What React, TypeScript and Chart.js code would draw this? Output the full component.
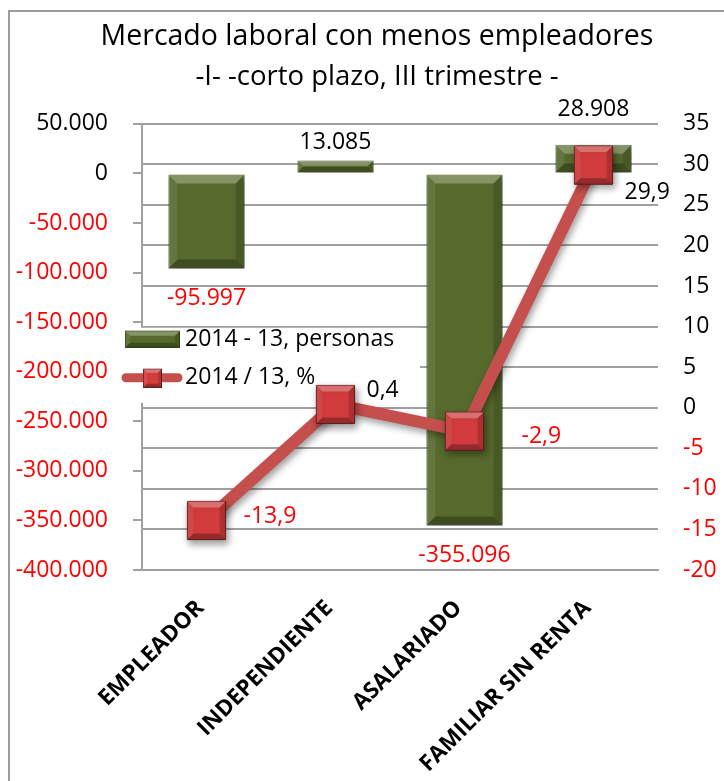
import React, { useEffect, useRef } from 'react';
import { Chart, registerables } from 'chart.js';

Chart.register(...registerables);

// ---- data ----
const categories = ['EMPLEADOR', 'INDEPENDIENTE', 'ASALARIADO', 'FAMILIAR SIN RENTA'];
const personas = [-95997, 13085, -355096, 28908];
const porcentaje = [-13.9, 0.4, -2.9, 29.9];
const legendLabels = ['2014 - 13, personas', '2014 / 13, %'];
const titleText = 'Mercado laboral con menos empleadores';
const subtitleText = '-I- -corto plazo, III trimestre -';
const leftMin = -400000;
const leftMax = 50000;
const leftStep = 50000;
const rightMin = -20;
const rightMax = 35;
const rightStep = 5;

// ---- styling / layout constants ----
const FONT = "'Open Sans', 'DejaVu Sans', sans-serif";
const RED_TEXT = '#ff0000';
const GRID = '#a0a0a0';
const BAR_FILL = '#576a2d';
const BAR_EDGE = '#36451a';
const LINE_COLOR = '#c44f4d';
const MARKER_FILL = '#d23c3c';
const MARKER_EDGE = '#6e1b1b';
const CANVAS_W = 734; // chart object is wider than the visible window (cropped on the right)
const CANVAS_H = 769;
// label offsets (px) relative to the mark
const barLabelDy = [30, -18, 30, -35];
const lineLabelOffsets = [
  [37, -4],
  [31, -14],
  [57, 5],
  [31, 27],
];

function fmtThousands(n: number): string {
  const s = Math.round(Math.abs(n)).toString().replace(/\B(?=(\d{3})+(?!\d))/g, '.');
  return (n < 0 ? '-' : '') + s;
}
function fmtDecimal(n: number): string {
  return n.toFixed(1).replace('.', ',');
}

function bevel(ctx: CanvasRenderingContext2D, l: number, t: number, r: number, b: number, bw: number, strength: number) {
  const h = b - t;
  const w = r - l;
  const e = Math.min(bw, h / 2.2, w / 2.2);
  if (e <= 0) return;
  ctx.save();
  ctx.beginPath();
  ctx.moveTo(l, t); ctx.lineTo(r, t); ctx.lineTo(r - e, t + e); ctx.lineTo(l + e, t + e); ctx.closePath();
  ctx.fillStyle = `rgba(255,255,255,${0.28 * strength})`;
  ctx.fill();
  ctx.beginPath();
  ctx.moveTo(l, t); ctx.lineTo(l + e, t + e); ctx.lineTo(l + e, b - e); ctx.lineTo(l, b); ctx.closePath();
  ctx.fillStyle = `rgba(255,255,255,${0.08 * strength})`;
  ctx.fill();
  ctx.beginPath();
  ctx.moveTo(r, t); ctx.lineTo(r - e, t + e); ctx.lineTo(r - e, b - e); ctx.lineTo(r, b); ctx.closePath();
  ctx.fillStyle = `rgba(0,0,0,${0.16 * strength})`;
  ctx.fill();
  ctx.beginPath();
  ctx.moveTo(l, b); ctx.lineTo(r, b); ctx.lineTo(r - e, b - e); ctx.lineTo(l + e, b - e); ctx.closePath();
  ctx.fillStyle = `rgba(0,0,0,${0.28 * strength})`;
  ctx.fill();
  ctx.restore();
}

const effectsPlugin = {
  id: 'excelEffects',
  beforeDatasetsDraw(chart: any) {
    const ctx: CanvasRenderingContext2D = chart.ctx;
    const ca = chart.chartArea;
    const lx = ca.left - 26;
    const ly = ca.top + 204;
    ctx.save();
    ctx.fillStyle = '#ffffff';
    ctx.fillRect(lx, ly, 304, 75);
    ctx.fillStyle = BAR_FILL;
    ctx.fillRect(lx + 9, ly + 3, 55, 17);
    ctx.strokeStyle = BAR_EDGE;
    ctx.lineWidth = 1;
    ctx.strokeRect(lx + 9.5, ly + 3.5, 54, 16);
    bevel(ctx, lx + 9, ly + 3, lx + 64, ly + 20, 5, 1);
    ctx.strokeStyle = LINE_COLOR;
    ctx.lineWidth = 9;
    ctx.lineCap = 'round';
    ctx.beginPath();
    ctx.moveTo(lx + 10, ly + 50);
    ctx.lineTo(lx + 62, ly + 50);
    ctx.stroke();
    ctx.fillStyle = MARKER_FILL;
    ctx.fillRect(lx + 27, ly + 41, 19, 19);
    ctx.strokeStyle = MARKER_EDGE;
    ctx.lineWidth = 1;
    ctx.strokeRect(lx + 27.5, ly + 41.5, 18, 18);
    bevel(ctx, lx + 27, ly + 41, lx + 46, ly + 60, 4, 1);
    ctx.fillStyle = '#000000';
    ctx.font = `23px ${FONT}`;
    ctx.textAlign = 'left';
    ctx.textBaseline = 'middle';
    ctx.fillText(legendLabels[0], lx + 69, ly + 12);
    ctx.fillText(legendLabels[1], lx + 69, ly + 50);
    ctx.restore();
  },
  beforeDatasetDraw(chart: any) {
    const ctx: CanvasRenderingContext2D = chart.ctx;
    ctx.save();
    ctx.shadowColor = 'rgba(0,0,0,0.38)';
    ctx.shadowBlur = 7;
    ctx.shadowOffsetX = 2;
    ctx.shadowOffsetY = 4;
  },
  afterDatasetDraw(chart: any, args: any) {
    const ctx: CanvasRenderingContext2D = chart.ctx;
    ctx.restore();
    const meta = args.meta;
    if (meta.type === 'bar') {
      meta.data.forEach((el: any) => {
        const p = el.getProps(['x', 'y', 'base', 'width'], true);
        const l = p.x - p.width / 2;
        const r = p.x + p.width / 2;
        const t = Math.min(p.y, p.base);
        const b = Math.max(p.y, p.base);
        bevel(ctx, l, t, r, b, 9, 1);
      });
    } else if (meta.type === 'line') {
      const radius = chart.data.datasets[args.index].pointRadius;
      const half = Math.SQRT1_2 * radius;
      meta.data.forEach((el: any) => {
        const p = el.getProps(['x', 'y'], true);
        bevel(ctx, p.x - half, p.y - half, p.x + half, p.y + half, 6, 1);
      });
    }
  },
  afterDatasetsDraw(chart: any) {
    const ctx: CanvasRenderingContext2D = chart.ctx;
    ctx.save();
    ctx.font = `23px ${FONT}`;
    ctx.textBaseline = 'middle';
    const barMeta = chart.getDatasetMeta(0);
    barMeta.data.forEach((el: any, i: number) => {
      const v = personas[i];
      const p = el.getProps(['x', 'y'], true);
      ctx.fillStyle = v < 0 ? RED_TEXT : '#000000';
      ctx.textAlign = 'center';
      ctx.fillText(fmtThousands(v), p.x, p.y + barLabelDy[i]);
    });
    const lineMeta = chart.getDatasetMeta(1);
    lineMeta.data.forEach((el: any, i: number) => {
      const v = porcentaje[i];
      const p = el.getProps(['x', 'y'], true);
      ctx.fillStyle = v < 0 ? RED_TEXT : '#000000';
      ctx.textAlign = 'left';
      ctx.fillText(fmtDecimal(v), p.x + lineLabelOffsets[i][0], p.y + lineLabelOffsets[i][1]);
    });
    ctx.restore();
  },
};

export default function App() {
  const canvasRef = useRef<HTMLCanvasElement | null>(null);

  useEffect(() => {
    if (!canvasRef.current) return;
    const negRed = (c: any) => (c.tick && c.tick.value < 0 ? RED_TEXT : '#000000');
    const chart = new Chart(canvasRef.current, {
      type: 'bar',
      data: {
        labels: categories,
        datasets: [
          {
            type: 'bar',
            label: legendLabels[0],
            data: personas,
            yAxisID: 'y',
            backgroundColor: BAR_FILL,
            borderColor: BAR_EDGE,
            borderWidth: 1,
            barPercentage: 0.59,
            categoryPercentage: 1,
            order: 1,
          } as any,
          {
            type: 'line',
            label: legendLabels[1],
            data: porcentaje,
            yAxisID: 'y1',
            borderColor: LINE_COLOR,
            borderWidth: 12,
            tension: 0,
            pointStyle: 'rect',
            pointRadius: 27,
            pointHoverRadius: 27,
            pointBackgroundColor: MARKER_FILL,
            pointBorderColor: MARKER_EDGE,
            pointBorderWidth: 1,
            order: 0,
          } as any,
        ],
      },
      options: {
        responsive: false,
        animation: false,
        devicePixelRatio: 1,
        layout: { padding: 0 },
        plugins: {
          legend: { display: false },
          tooltip: { enabled: false },
          title: {
            display: true,
            text: titleText,
            color: '#000000',
            font: { family: FONT, size: 28.5, weight: 'normal' },
            padding: { top: 8, bottom: 3 },
          },
          subtitle: {
            display: true,
            text: subtitleText,
            color: '#000000',
            font: { family: FONT, size: 27.5, weight: 'normal' },
            padding: { top: 3, bottom: 30.6 },
          },
        },
        scales: {
          x: {
            offset: true,
            grid: { display: false },
            border: { display: true, color: GRID, width: 2 },
            ticks: {
              autoSkip: false,
              minRotation: 45,
              maxRotation: 45,
              padding: 17,
              labelOffset: -6,
              color: '#000000',
              font: { family: FONT, size: 22.5, weight: 'bold' },
            },
            afterFit: (s: any) => { s.height = 211; },
          },
          y: {
            position: 'left',
            min: leftMin,
            max: leftMax,
            ticks: {
              stepSize: leftStep,
              padding: 25,
              color: negRed,
              font: { family: FONT, size: 23 },
              callback: (v: any) => fmtThousands(Number(v)),
            },
            grid: { display: true, drawOnChartArea: false, drawTicks: true, tickLength: 9, color: GRID, lineWidth: 2 },
            border: { display: true, color: GRID, width: 2 },
            afterFit: (s: any) => { s.width = 132; },
          },
          y1: {
            position: 'right',
            min: rightMin,
            max: rightMax,
            ticks: {
              stepSize: rightStep,
              padding: 25,
              color: negRed,
              font: { family: FONT, size: 23 },
              callback: (v: any) => String(v),
            },
            grid: { display: true, drawOnChartArea: true, drawTicks: false, color: GRID, lineWidth: 2 },
            border: { display: false },
            afterFit: (s: any) => { s.width = 86; },
          },
        },
      } as any,
      plugins: [effectsPlugin],
    });
    return () => chart.destroy();
  }, []);

  return (
    <div
      style={{
        position: 'fixed',
        left: 8,
        top: 10,
        width: 716,
        height: 771,
        borderTop: '2px solid #9c9c9c',
        borderLeft: '2px solid #9c9c9c',
        boxSizing: 'border-box',
        background: '#ffffff',
        overflow: 'hidden',
      }}
    >
      <canvas
        ref={canvasRef}
        width={CANVAS_W}
        height={CANVAS_H}
        style={{ display: 'block', width: CANVAS_W, height: CANVAS_H }}
      />
    </div>
  );
}
